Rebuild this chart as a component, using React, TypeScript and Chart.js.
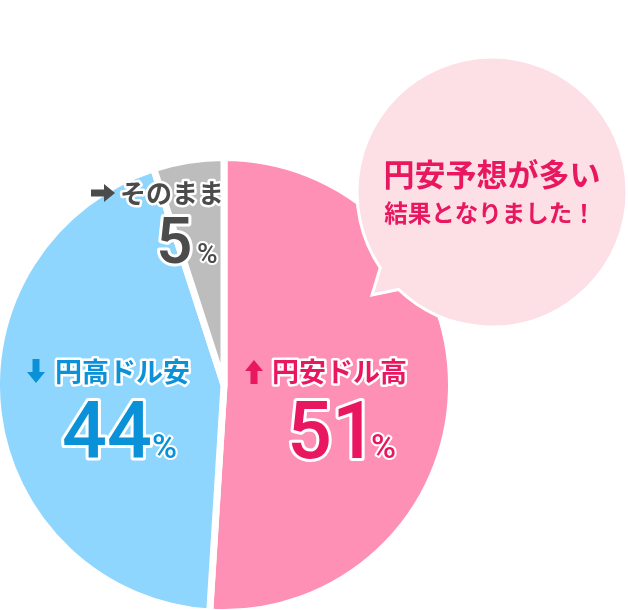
import { useEffect, useRef } from 'react';
import { Chart, registerables } from 'chart.js';

Chart.register(...registerables);

const labels = ['円安ドル高', '円高ドル安', 'そのまま'];
const shares = [51, 44, 5];
const sliceColors = ['#fe8fb5', '#8ed6fe', '#bdbdbd'];
const textColors = ['#e8175f', '#0b91d8', '#4b4b4b'];
const arrows = ['up', 'down', 'right'];
const bubbleLines = ['円安予想が多い', '結果となりました！'];

const JP = '"Noto Sans CJK JP", "Noto Sans", sans-serif';
const NUM = 'Roboto, "Noto Sans", sans-serif';

function outlined(ctx: CanvasRenderingContext2D, text: string, x: number, y: number, font: string, color: string, align: CanvasTextAlign = 'left', baseline: CanvasTextBaseline = 'alphabetic', line = 5) {
  ctx.font = font;
  ctx.textAlign = align;
  ctx.textBaseline = baseline;
  ctx.lineJoin = 'round';
  ctx.lineWidth = line;
  ctx.strokeStyle = '#fff';
  ctx.strokeText(text, x, y);
  ctx.fillStyle = color;
  ctx.fillText(text, x, y);
}

// small block arrows next to the labels
function arrow(ctx: CanvasRenderingContext2D, dir: string, x: number, y: number, color: string) {
  ctx.save();
  ctx.translate(x, y);
  if (dir === 'down') ctx.rotate(Math.PI);
  if (dir === 'right') ctx.rotate(Math.PI / 2);
  ctx.beginPath();
  ctx.moveTo(0, -12);
  ctx.lineTo(9, -1);
  ctx.lineTo(3.5, -1);
  ctx.lineTo(3.5, 12);
  ctx.lineTo(-3.5, 12);
  ctx.lineTo(-3.5, -1);
  ctx.lineTo(-9, -1);
  ctx.closePath();
  ctx.fillStyle = color;
  ctx.fill();
  ctx.restore();
}

const overlay = {
  id: 'overlay',
  afterDraw(chart: Chart) {
    const ctx = chart.ctx;
    const arc: any = chart.getDatasetMeta(0).data[0];
    const cx = arc.x;
    ctx.save();

    // slice labels, offsets from the pie centre
    const spots = [
      { ax: 30, ay: 372, tx: 48, ty: 372, nx: 63, ny: 458, px: 147, big: 79, pct: 34, lab: 27 },
      { ax: -188, ay: 371, tx: -169, ty: 372, nx: -162, ny: 458, px: -72, big: 79, pct: 34, lab: 27 },
      { ax: -121, ay: 193, tx: -104, ty: 193, nx: -68, ny: 263, px: -27, big: 64, pct: 28, lab: 26 },
    ];
    spots.forEach((s, i) => {
      arrow(ctx, arrows[i], cx + s.ax, s.ay, textColors[i]);
      outlined(ctx, labels[i], cx + s.tx, s.ty, `bold ${s.lab}px ${JP}`, textColors[i], 'left', 'middle');
      outlined(ctx, String(shares[i]), cx + s.nx, s.ny, `500 ${s.big}px ${NUM}`, textColors[i], 'left', 'alphabetic', 6);
      outlined(ctx, '%', cx + s.px, s.ny, `500 ${s.pct}px ${NUM}`, textColors[i], 'left', 'alphabetic', 4);
    });

    // speech bubble with its tail pointing at the pink slice
    const bx = cx + 268;
    const by = 192;
    const br = 135;
    const a1 = Math.atan2(268 - by, cx + 156 - bx);
    const a2 = Math.atan2(290 - by, cx + 174 - bx);
    ctx.beginPath();
    ctx.arc(bx, by, br, a1, a2 + Math.PI * 2, false);
    ctx.lineTo(cx + 148, 295);
    ctx.closePath();
    ctx.fillStyle = '#fddfe6';
    ctx.fill();
    ctx.lineWidth = 3;
    ctx.strokeStyle = '#fff';
    ctx.lineJoin = 'miter';
    ctx.stroke();

    ctx.fillStyle = '#e8175f';
    ctx.textAlign = 'center';
    ctx.textBaseline = 'middle';
    ctx.font = `bold 31px ${JP}`;
    ctx.fillText(bubbleLines[0], bx, 174);
    ctx.font = `bold 23.5px ${JP}`;
    ctx.fillText(bubbleLines[1], bx - 2, 213);
    ctx.restore();
  },
};

export default function App() {
  const ref = useRef<HTMLCanvasElement>(null);

  useEffect(() => {
    if (!ref.current) return;
    const chart = new Chart(ref.current, {
      type: 'pie',
      data: {
        labels,
        datasets: [{
          data: shares,
          backgroundColor: sliceColors,
          borderColor: '#ffffff',
          borderWidth: 7,
          clip: false,
        } as any],
      },
      options: {
        animation: false,
        responsive: true,
        maintainAspectRatio: false,
        radius: 227.5,
        layout: { padding: { left: 0, right: 180, top: 161, bottom: 1 } },
        plugins: { legend: { display: false }, tooltip: { enabled: false } },
      } as any,
      plugins: [overlay],
    });
    return () => chart.destroy();
  }, []);

  return (
    <div style={{ position: 'fixed', left: 0, top: 0, width: 628, height: 610, background: '#fff' }}>
      <canvas ref={ref}></canvas>
    </div>
  );
}
